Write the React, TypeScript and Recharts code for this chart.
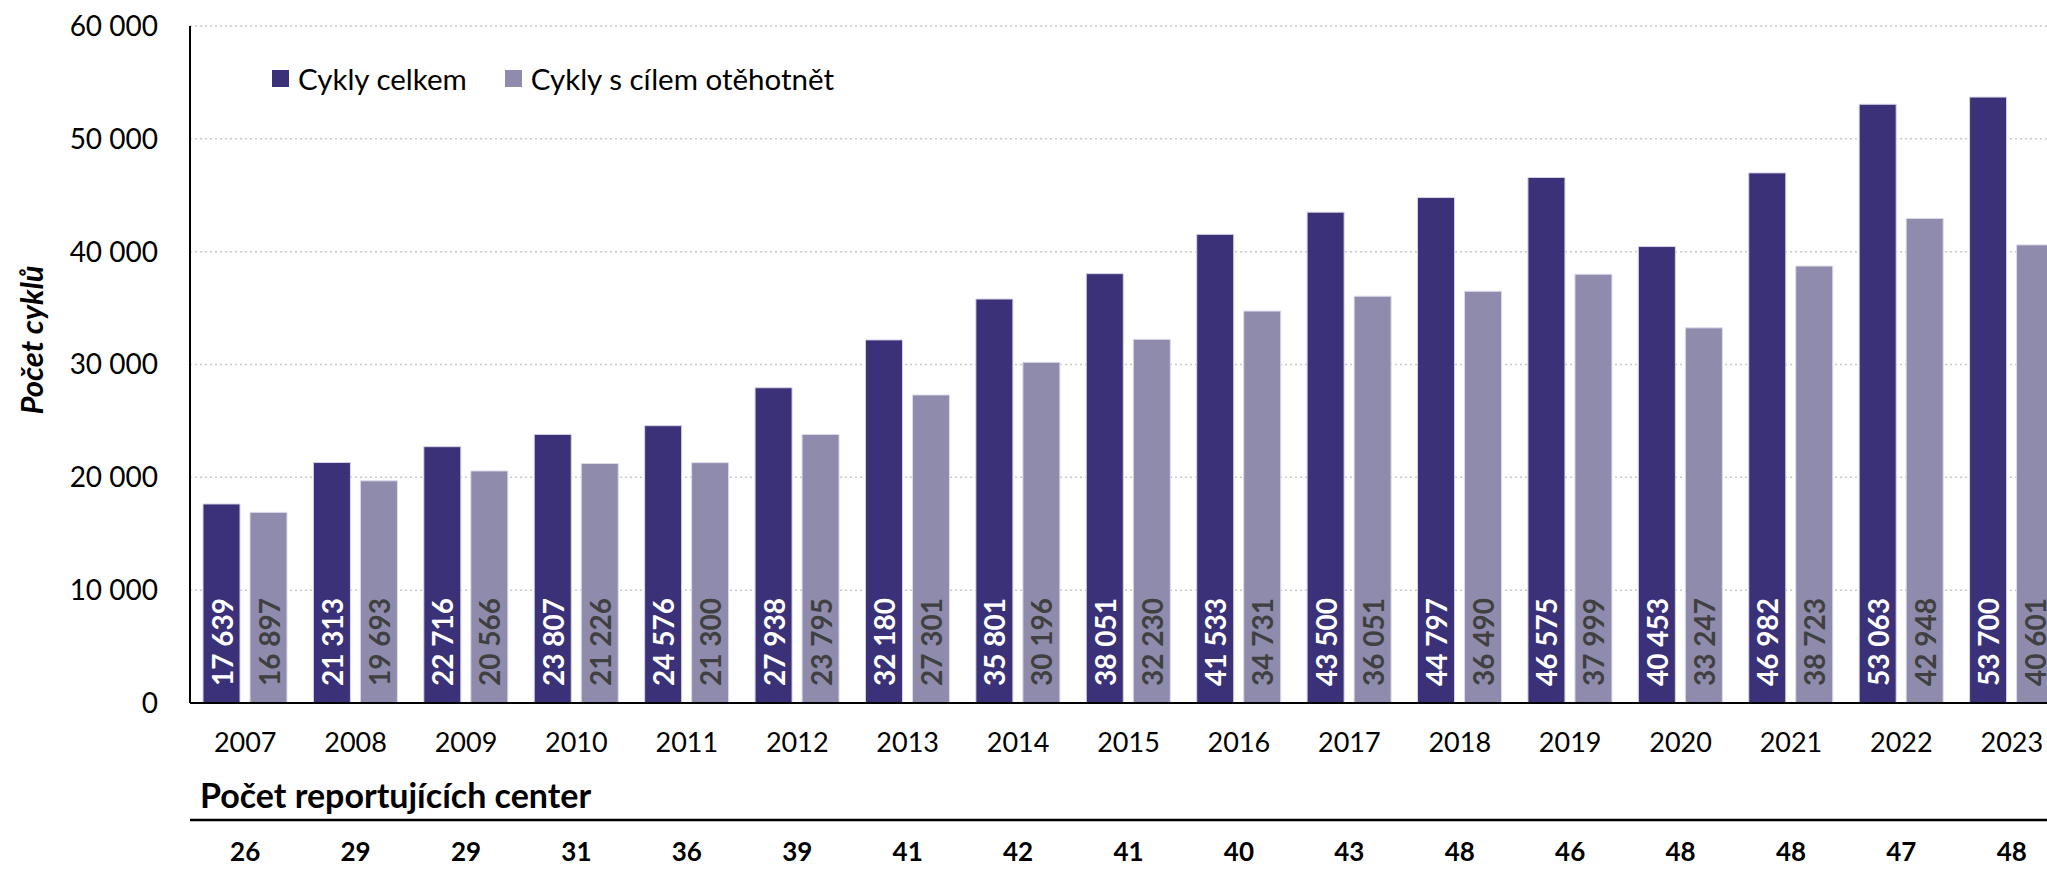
import React from 'react';
import {
  BarChart,
  Bar,
  XAxis,
  YAxis,
  CartesianGrid,
  Legend,
  LabelList
} from 'recharts';

const years = ['2007', '2008', '2009', '2010', '2011', '2012', '2013', '2014', '2015', '2016', '2017', '2018', '2019', '2020', '2021', '2022', '2023'];
const totalCycles = [17639, 21313, 22716, 23807, 24576, 27938, 32180, 35801, 38051, 41533, 43500, 44797, 46575, 40453, 46982, 53063, 53700];
const pregnancyCycles = [16897, 19693, 20566, 21226, 21300, 23795, 27301, 30196, 32230, 34731, 36051, 36490, 37999, 33247, 38723, 42948, 40601];
const centers = [26, 29, 29, 31, 36, 39, 41, 42, 41, 40, 43, 48, 46, 48, 48, 47, 48];
const yTicks = [0, 10000, 20000, 30000, 40000, 50000, 60000];

const DARK = '#3a3178';
const LIGHT = '#8f8bad';
const FONT = 'Lato, "Open Sans", sans-serif';

const data = years.map((year, i) => ({
  year,
  total: totalCycles[i],
  pregnancy: pregnancyCycles[i],
  centers: centers[i]
}));

// 17639 -> "17 639"
const fmt = (v: number) => String(v).replace(/\B(?=(\d{3})+(?!\d))/g, ' ');

const makeBarLabel = (color: string) => (props: any) => {
  const { x, y, width, height, value } = props;
  const cx = x + width / 2;
  const by = y + height - 17;
  return (
    <text
      x={cx}
      y={by}
      transform={`rotate(-90 ${cx} ${by})`}
      textAnchor="start"
      dominantBaseline="central"
      fill={color}
      fontSize={28}
      fontWeight={700}
      fontFamily={FONT}
    >
      {fmt(value)}
    </text>
  );
};

const LegendContent = ({ payload }: any) => (
  <div style={{ display: 'flex', alignItems: 'center', fontFamily: FONT, fontSize: 29.5, color: '#000' }}>
    {(payload || []).map((item: any, i: number) => (
      <div key={i} style={{ display: 'flex', alignItems: 'center', marginRight: 38 }}>
        <span style={{ display: 'inline-block', width: 17, height: 17, background: item.color, marginRight: 9 }} />
        <span>{item.value}</span>
      </div>
    ))}
  </div>
);

const App: React.FC = () => {
  return (
    <div style={{ position: 'fixed', left: 0, top: 0, width: 2047, height: 876, overflow: 'hidden', background: '#fff', fontFamily: FONT }}>
      <BarChart
        width={2100}
        height={876}
        data={data}
        margin={{ top: 26, right: 33, left: 0, bottom: 0 }}
        barSize={37}
        barGap={10}
      >
        <CartesianGrid horizontal vertical={false} stroke="#c9c9c9" strokeDasharray="2 3" strokeWidth={1.5} />
        <YAxis
          width={190}
          domain={[0, 60000]}
          ticks={yTicks}
          tickFormatter={fmt}
          tick={{ fill: '#000', fontSize: 28, fontFamily: FONT }}
          tickLine={false}
          tickSize={0}
          tickMargin={32}
          axisLine={{ stroke: '#000', strokeWidth: 2 }}
          label={{
            content: () => (
              <text
                x={31}
                y={340}
                transform="rotate(-90 31 340)"
                textAnchor="middle"
                dominantBaseline="central"
                fontSize={31}
                fontWeight={700}
                fontStyle="italic"
                fontFamily={FONT}
                fill="#000"
              >
                Počet cyklů
              </text>
            )
          }}
        />
        <XAxis
          dataKey="year"
          height={117}
          tick={{ fill: '#000', fontSize: 27, fontFamily: FONT }}
          tickLine={false}
          tickSize={0}
          tickMargin={30}
          axisLine={{ stroke: '#000', strokeWidth: 2 }}
          interval={0}
        />
        <XAxis
          xAxisId="centers"
          dataKey="year"
          height={56}
          tickFormatter={(_v: any, i: number) => String(centers[i])}
          tick={{ fill: '#000', fontSize: 26, fontWeight: 700, fontFamily: FONT }}
          tickLine={false}
          tickSize={0}
          tickMargin={23}
          axisLine={{ stroke: '#000', strokeWidth: 2.5 }}
          interval={0}
          label={{
            content: (p: any) => {
              const vb = p.viewBox || { x: 190, y: 820 };
              return (
                <text x={vb.x + 10} y={vb.y - 12} fontSize={34} fontWeight={700} fontFamily={FONT} fill="#000">
                  Počet reportujících center
                </text>
              );
            }
          }}
        />
        <Legend
          layout="horizontal"
          verticalAlign="middle"
          align="center"
          content={<LegendContent />}
          wrapperStyle={{ top: 61, left: 272, width: 'auto' }}
        />
        <Bar dataKey="total" name="Cykly celkem" fill={DARK} stroke="#d6d3e5" strokeWidth={1} isAnimationActive={false}>
          <LabelList dataKey="total" content={makeBarLabel('#ffffff')} />
        </Bar>
        <Bar dataKey="pregnancy" name="Cykly s cílem otěhotnět" fill={LIGHT} stroke="#dcdaea" strokeWidth={1} isAnimationActive={false}>
          <LabelList dataKey="pregnancy" content={makeBarLabel('#404040')} />
        </Bar>
      </BarChart>
    </div>
  );
};

export default App;
